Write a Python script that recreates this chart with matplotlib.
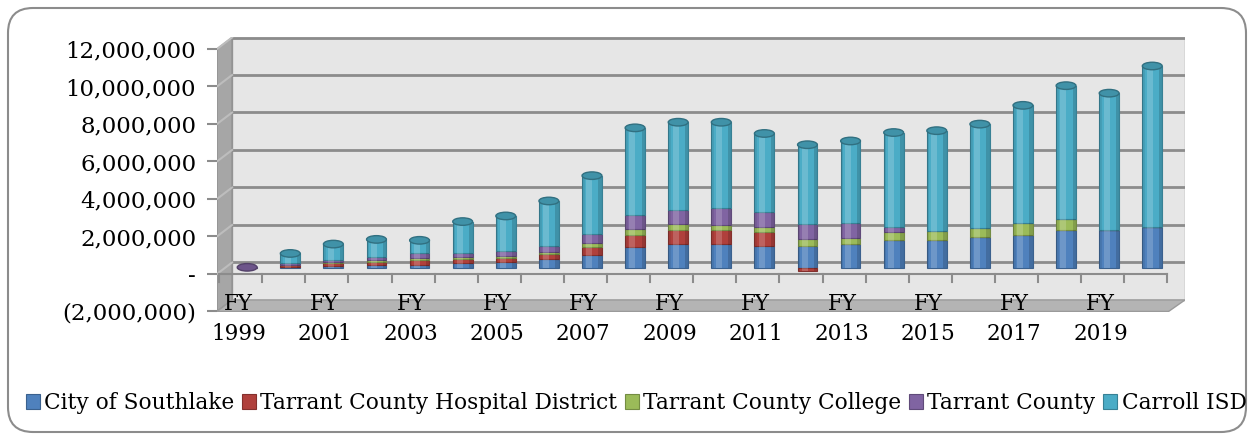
import numpy as np
import matplotlib
matplotlib.use('Agg')
import matplotlib.pyplot as plt
from matplotlib.patches import Polygon, Ellipse, FancyBboxPatch
from matplotlib.transforms import ScaledTranslation, IdentityTransform

# Tax revenue by taxing entity, FY 1999 - FY 2020
years = list(range(1999, 2021))
city = [0, 100e3, 150e3, 180e3, 200e3, 270e3, 340e3, 480e3, 710e3, 1160e3, 1330e3,
        1330e3, 1200e3, 1200e3, 1280e3, 1510e3, 1510e3, 1690e3, 1810e3, 2040e3, 2040e3, 2220e3]
hospital = [0, 60e3, 130e3, 170e3, 240e3, 210e3, 210e3, 270e3, 450e3, 600e3, 710e3,
            710e3, 720e3, -150e3, 0, 0, 0, 0, 0, 0, 0, 0]
college = [0, 40e3, 70e3, 100e3, 130e3, 120e3, 110e3, 150e3, 200e3, 320e3, 310e3,
           300e3, 270e3, 390e3, 320e3, 410e3, 480e3, 480e3, 590e3, 590e3, 0, 0]
county = [60e3, 100e3, 120e3, 150e3, 230e3, 250e3, 250e3, 300e3, 500e3, 750e3, 750e3,
          890e3, 800e3, 800e3, 850e3, 300e3, 0, 0, 0, 0, 0, 0]
carroll = [0, 500e3, 830e3, 950e3, 700e3, 1650e3, 1890e3, 2400e3, 3090e3, 4670e3, 4700e3,
           4570e3, 4210e3, 4210e3, 4350e3, 5030e3, 5360e3, 5530e3, 6300e3, 7120e3, 7310e3, 8580e3]

series = [('City of Southlake', city, '#4F81BD'),
          ('Tarrant County Hospital District', hospital, '#B0403C'),
          ('Tarrant County College', college, '#9BBB59'),
          ('Tarrant County', county, '#8064A2'),
          ('Carroll ISD', carroll, '#4BACC6')]

yticks = [-2e6, 0, 2e6, 4e6, 6e6, 8e6, 10e6, 12e6]
ytick_labels = ['(2,000,000)', '-', '2,000,000', '4,000,000', '6,000,000',
                '8,000,000', '10,000,000', '12,000,000']

plt.rcParams['font.family'] = 'DejaVu Serif'


def shade(col, f):
    return tuple(c * f for c in matplotlib.colors.to_rgb(col))


W, H = 1252, 437
fig = plt.figure(figsize=(W / 100, H / 100), dpi=100)
ax = fig.add_axes([217 / W, (H - 312) / H, (1185 - 217) / W, (312 - 37) / H])
ax.set_xlim(-0.70, 21.76)
ax.set_ylim(-2.03e6, 12.64e6)
ax.set_facecolor('none')
for s in ax.spines.values():
    s.set_visible(False)

D = 0.613e6      # depth offset of the back wall
x0, xb, x1 = -0.70, -0.35, 21.76

# back wall, side wall, floor
ax.add_patch(Polygon([(xb, -2e6 + D), (x1, -2e6 + D), (x1, 12e6 + D), (xb, 12e6 + D)],
                     closed=True, facecolor='#e6e6e6', edgecolor='#a0a0a0', lw=1, zorder=0))
ax.add_patch(Polygon([(x0, -2e6), (xb, -2e6 + D), (xb, 12e6 + D), (x0, 12e6)],
                     closed=True, facecolor='#a6a6a6', edgecolor='#909090', lw=1, zorder=0))
ax.add_patch(Polygon([(x0, -2e6), (xb, -2e6 + D), (x1, -2e6 + D), (x1 - 0.38, -2e6)],
                     closed=True, facecolor='#b4b4b4', edgecolor='#9a9a9a', lw=1, zorder=0))
for v in yticks[1:]:
    ax.plot([xb, x1], [v + D, v + D], color='#8c8c8c', lw=2, zorder=1)
    ax.plot([x0, xb], [v, v + D], color='#bdbdbd', lw=1.5, zorder=1)

# category axis at zero with ticks
ax.plot([-0.65, 21.35], [0, 0], color='#8c8c8c', lw=1.5, zorder=1)
for k in range(23):
    ax.plot([k - 0.65, k - 0.65], [0, -0.43e6], color='#8c8c8c', lw=1.5, zorder=1)

# stacked bars (cylinders)
idx = np.arange(len(years))
bar_tr = ax.transData + ScaledTranslation(0, 5.5 / 100, fig.dpi_scale_trans)
pos = np.zeros(len(years))
neg = np.zeros(len(years))
handles = []
for name, vals, col in series:
    vals = np.array(vals)
    bottom = np.where(vals >= 0, pos, neg)
    b = ax.bar(idx, vals, 0.46, bottom=bottom, color=col, edgecolor=shade(col, 0.75), lw=0.8,
               label=name, transform=bar_tr, zorder=3)
    handles.append(b)
    # cylinder shading: light band left of centre, dark band on the right
    ax.bar(idx - 0.06, vals, 0.14, bottom=bottom, color='white', alpha=0.18, lw=0,
           transform=bar_tr, zorder=3.1)
    ax.bar(idx + 0.19, vals, 0.08, bottom=bottom, color='black', alpha=0.15, lw=0,
           transform=bar_tr, zorder=3.1)
    ax.bar(idx - 0.2, vals, 0.06, bottom=bottom, color='black', alpha=0.08, lw=0,
           transform=bar_tr, zorder=3.1)
    pos = pos + np.where(vals > 0, vals, 0)
    neg = neg + np.where(vals < 0, vals, 0)

for i in idx:
    last = [c for _, v, c in series if v[i] > 0][-1]
    ax.add_patch(Ellipse((i, pos[i]), 0.46, 0.4e6, facecolor=shade(last, 0.85),
                         edgecolor=shade(last, 0.65), lw=1, transform=bar_tr, zorder=4))

# axes labels
ax.set_yticks(yticks)
ax.set_yticklabels(ytick_labels, fontsize=16.5)
ax.tick_params(axis='y', length=7, color='#8c8c8c', width=1.5, pad=8)
ax.set_xticks([])
for i in idx[::2]:
    ax.text(i - 0.2, -1.6e6, 'FY', ha='center', va='center', fontsize=15.5, zorder=5)
    ax.text(i - 0.2, -3.2e6, str(years[i]), ha='center', va='center', fontsize=15.5)

fig.legend(handles=handles, loc='center', bbox_to_anchor=(0.508, (H - 403) / H), ncol=5,
           frameon=False, fontsize=15.6, handlelength=0.65, handleheight=0.65,
           handletextpad=0.2, columnspacing=0.35, borderaxespad=0)

fig.add_artist(FancyBboxPatch((8, 5), 1238, 424, boxstyle='round,pad=0,rounding_size=25',
                              facecolor='none', edgecolor='#8c8c8c', lw=1.5,
                              transform=IdentityTransform()))

fig.savefig('out.png', dpi=100)
